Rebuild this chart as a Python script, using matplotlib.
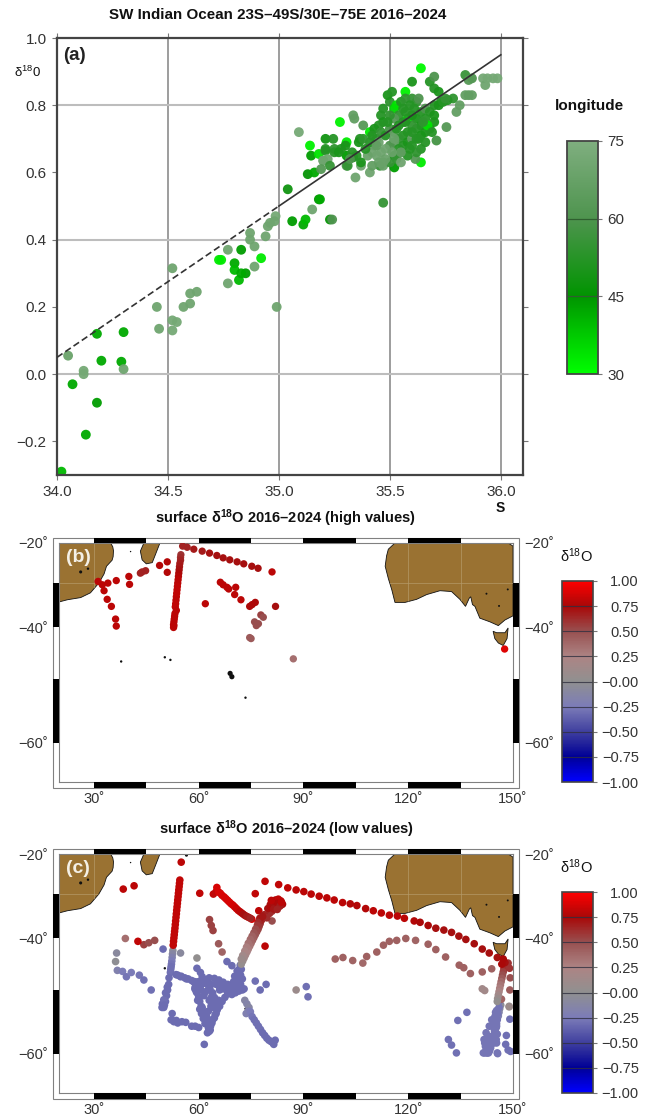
import matplotlib
matplotlib.use("Agg")
import matplotlib.pyplot as plt
import numpy as np
from matplotlib.colors import LinearSegmentedColormap, Normalize
from matplotlib.cm import ScalarMappable
from matplotlib.patches import Polygon, Rectangle

plt.rcParams['font.family'] = ['Liberation Sans', 'DejaVu Sans']
plt.rcParams['mathtext.fontset'] = 'custom'
plt.rcParams['mathtext.rm'] = 'Liberation Sans'
plt.rcParams['mathtext.it'] = 'Liberation Sans'
plt.rcParams['mathtext.bf'] = 'Liberation Sans:bold'

W, H = 649, 1115

# ---------- panel (a): (salinity, d18O, longitude) ----------
sparse_a_S = [34.02,34.05,34.12,34.12,34.07,34.18,34.13,34.18,34.2,34.3,34.29,34.3,34.45,34.46,34.52,34.54,34.52,34.52,34.57,34.6,34.6,34.63,
              34.74,34.77,34.82,34.8,34.8,34.85,34.83,34.73,34.92,34.89,34.99,34.83,34.77,34.94,34.95,34.87,34.87,34.89,34.96,34.985,34.98,
              35.06,35.11,35.12,35.15,35.18,35.04,35.13,35.16,35.09,35.14,35.145,35.18,35.2,35.21,35.21,35.23,35.185,35.24,35.47,
              35.64,35.6,35.68,35.7,35.7,35.72,35.57,35.84,35.87,35.855,35.92,35.93,35.94,35.965,35.985,35.84,35.855,35.87,35.785,35.76,35.73,35.7,
              35.815,35.8,35.755,35.71,35.275,35.335,35.34,35.38,35.365,35.41,35.245,35.305,35.25,35.2,35.305,35.335,35.305,35.37,35.41,35.345,35.64,35.615,35.52,35.455]
sparse_a_d = [-0.29,0.055,0.01,0.0,-0.03,-0.085,-0.18,0.12,0.04,0.125,0.037,0.015,0.2,0.135,0.16,0.155,0.13,0.315,0.2,0.21,0.24,0.245,
              0.34,0.27,0.28,0.33,0.31,0.3,0.3,0.34,0.345,0.32,0.2,0.37,0.37,0.41,0.44,0.42,0.4,0.38,0.45,0.47,0.455,
              0.455,0.445,0.46,0.49,0.52,0.55,0.595,0.6,0.72,0.68,0.65,0.655,0.635,0.7,0.665,0.46,0.52,0.46,0.51,
              0.91,0.87,0.87,0.885,0.85,0.84,0.84,0.89,0.88,0.875,0.88,0.86,0.88,0.88,0.88,0.83,0.83,0.83,0.82,0.815,0.81,0.8,
              0.8,0.78,0.735,0.695,0.75,0.77,0.76,0.74,0.7,0.72,0.7,0.69,0.67,0.635,0.65,0.645,0.62,0.62,0.6,0.585,0.63,0.64,0.615,0.62]
sparse_a_lon = [40,68,72,72,42,44,42,42,42,42,42,70,70,70,72,72,72,70,70,70,70,70,
                33,70,40,42,40,44,42,33,33,70,70,44,70,70,70,70,70,70,70,72,70,
                44,42,40,70,46,48,46,42,72,32,44,34,72,48,52,46,42,60,55,
                31,50,52,60,52,50,32,56,60,62,72,70,72,72,72,66,66,66,54,52,52,52,
                66,66,62,58,32,66,66,62,52,33,52,33,54,70,44,52,58,70,70,70,33,62,44,56]
cloud_S = [35.47,35.5,35.49,35.51,35.46,35.52,35.53,35.55,35.57,35.6,35.62,35.63,35.59,35.56,35.54,35.52,35.5,35.47,35.45,35.43,35.42,35.44,35.46,35.48,
           35.5,35.52,35.54,35.56,35.58,35.6,35.62,35.64,35.66,35.68,35.66,35.64,35.62,35.6,35.58,35.56,35.54,35.52,35.5,35.48,35.46,35.44,35.42,35.4,35.43,
           35.45,35.47,35.5,35.52,35.54,35.56,35.58,35.6,35.6,35.62,35.64,35.66,35.68,35.7,35.7,35.72,35.74,35.75,35.66,35.64,35.62,35.58,35.55,35.53,35.48,
           35.42,35.39,35.37,35.35,35.33,35.31,35.36,35.28,35.25,35.22,35.23,35.19,35.27,35.3,35.21,35.32,
           35.67,35.52,35.55,35.45,35.49,35.51,35.57,35.6,35.63,35.65,35.69,35.55,35.59,35.47,35.41,35.44,35.38,35.53,35.57,35.61]
cloud_d = [0.79,0.81,0.83,0.84,0.77,0.79,0.8,0.81,0.82,0.82,0.81,0.82,0.8,0.79,0.77,0.76,0.77,0.75,0.74,0.73,0.71,0.7,0.72,0.71,
           0.73,0.72,0.74,0.75,0.76,0.77,0.76,0.78,0.79,0.78,0.76,0.74,0.73,0.74,0.72,0.71,0.7,0.69,0.68,0.67,0.66,0.65,0.66,0.65,0.68,
           0.63,0.62,0.63,0.65,0.67,0.68,0.69,0.7,0.68,0.7,0.71,0.72,0.73,0.75,0.77,0.8,0.81,0.82,0.69,0.67,0.66,0.65,0.66,0.64,0.64,
           0.62,0.67,0.63,0.65,0.66,0.62,0.69,0.67,0.66,0.64,0.62,0.61,0.66,0.68,0.67,0.64,
           0.74,0.7,0.66,0.69,0.75,0.66,0.75,0.72,0.7,0.75,0.72,0.63,0.67,0.63,0.69,0.68,0.7,0.73,0.78,0.79]
cloud_lon = [52,54,50,52,52,36,34,52,54,55,55,60,52,52,54,62,54,50,52,50,52,52,55,52,
             58,66,52,52,34,50,50,52,60,52,52,50,52,54,52,52,54,66,60,70,70,70,70,68,68,
             68,68,55,52,52,52,50,66,52,52,50,50,52,50,50,50,52,55,52,52,54,52,52,55,68,
             66,52,50,52,52,55,50,52,52,70,55,62,50,50,52,60,
             34,68,66,70,52,68,52,52,52,54,52,70,52,68,52,66,54,52,52,52]
fit_S = [34.0, 35.0, 36.0]
fit_d = [0.05, 0.5, 0.95]

# ---------- panel (b) ----------
b_lon = [31.2,32.4,32.9,34,36.4,40,40.2,33.8,35,36.2,36.4,43.8,44.8,43.3,48.8,51,51,
         54.9,54.8,54.8,54.6,54.5,54.4,54.3,54.2,54.1,54,53.9,53.8,53.7,53.6,53.5,53.4,53.3,53.6,53.2,53.1,53,52.9,52.8,52.8,52.9,
         55.4,56.7,58.6,61,63.1,65.2,67,68.9,71,72.9,75.2,77,81,
         61.9,66.2,67,68.1,68.6,70.6,70.3,72.1,74.6,76.2,75.3,82,77.8,78.5,77.1,76.5,76,75,74.6,87.1,147.6]
b_lat = [-29.6,-30.4,-31.8,-30,-29.4,-28.4,-30.3,-33.8,-35.4,-38.2,-39.7,-27.3,-27,-27.6,-25.7,-24.8,-27.4,
         -23,-23.7,-24.4,-25.2,-26,-26.8,-27.6,-28.4,-29.2,-30,-30.8,-31.6,-32.4,-33.2,-34,-34.8,-35.5,-36.3,-37,-37.6,-38.2,-38.8,-39.4,-40,-39.6,
         -20.8,-21.1,-21.6,-22.1,-22.6,-23.2,-23.8,-24.3,-24.8,-25.3,-25.9,-26.4,-27.3,
         -34.8,-29.8,-30.4,-31,-31.4,-31,-32.7,-33.9,-35.4,-34.5,-35,-35.4,-37.3,-37.8,-39.2,-39.6,-38.8,-42.3,-42.1,-46.3,-44.4]
b_val = [0.8,0.8,0.8,0.8,0.8,0.8,0.8,0.8,0.8,0.8,0.8,0.66,0.66,0.66,0.78,0.78,0.78,
         0.6,0.62,0.65,0.68,0.7,0.72,0.75,0.78,0.8,0.8,0.82,0.82,0.82,0.82,0.8,0.82,0.82,0.8,0.8,0.8,0.8,0.8,0.8,0.8,0.8,
         0.65,0.65,0.68,0.68,0.72,0.72,0.72,0.72,0.72,0.72,0.72,0.72,0.8,
         0.8,0.8,0.8,0.8,0.8,0.8,0.8,0.8,0.76,0.76,0.76,0.72,0.55,0.5,0.5,0.5,0.5,0.45,0.45,0.35,0.9]

# ---------- panel (c) ----------
c_red_lon = [55,38.4,41.5,54.6,54.5,54.4,54.3,54.2,54.1,54,53.9,53.8,53.7,53.6,53.5,53.4,53.3,53.2,53.1,53,52.9,52.8,52.7,
             65.2,65,66.2,67.3,68.3,69.3,70.3,71.3,72.3,73.3,74.3,75.2,60.3,64.2,76.2,77.2,79,
             79,82.9,85.5,87.9,90.1,92.2,94.5,96.7,98.8,101.2,103.4,105.3,107.8,110,112.3,114.6,116.9,118.9,121.7,123.4,125.7,127.9,130.2,132.4,134.5,136.5,138.9,141.2,143.2,145.5,147.7,147.2,146.8,
             42.6,80.5,81.3,82,82.8,83.5,84,83,82,81,80.3,79.8,80.6,81.6,82.5,83.3,
             81.5,82.5,80.8,83.7,78.8,79.5,78.3,65.7,66.7,67.8,68.8,69.8,70.8,71.8,72.8,73.8,74.8]
c_red_lat = [-22.1,-28.8,-28,-26.6,-27.4,-28.2,-29,-29.8,-30.6,-31.4,-32.2,-33,-33.8,-34.6,-35.4,-36.2,-37,-37.8,-38.5,-39.2,-39.9,-40.6,-41.4,
             -28.4,-29.4,-29.8,-30.7,-31.5,-32.3,-33,-33.8,-34.4,-35,-35.4,-35.8,-29.8,-30,-29.9,-33.9,-41.6,
             -26.9,-27.7,-28.5,-29,-29.4,-30,-30.5,-30.9,-31.4,-32,-32.3,-32.7,-33.4,-33.9,-34.4,-34.9,-35.1,-35.6,-36.2,-36.5,-37.2,-37.8,-38.2,-38.7,-39.5,-40.2,-41.1,-42.2,-43,-43.9,-44.9,-44.2,-45.2,
             -40.6,-32.5,-31.9,-31.4,-31.2,-31.6,-32.4,-32.9,-33.3,-34,-34.5,-33.4,-33,-32.6,-32.2,-32.8,
             -33.5,-33.6,-31.5,-31.9,-34.8,-35.5,-35.2,-29.5,-30.3,-31.1,-31.9,-32.6,-33.4,-34.1,-34.7,-35.2,-35.6]
c_red_val = [0.8]*3 + [0.82]*20 + [0.88]*12 + [0.82,0.82,0.82,0.8,0.8] + \
            [0.82,0.82,0.82,0.8,0.8,0.8,0.8,0.8,0.8,0.8,0.78,0.78,0.78,0.8,0.8,0.8,0.8,0.8,0.78,0.75,0.75,0.72,0.72,0.72,0.72,0.72,0.72,0.72,0.72,0.72,0.72,0.75,0.75] + \
            [0.82,0.72,0.72,0.76,0.82,0.82,0.76,0.72,0.68,0.62,0.62,0.72,0.76,0.72,0.76,0.68] + \
            [0.7,0.66,0.8,0.8,0.66,0.62,0.7,0.88,0.88,0.88,0.88,0.86,0.84,0.8,0.72,0.68,0.65]

c_mid_lon = [77.6,77.3,77,76.6,76.2,75.8,75.4,75,74.6,74.2,73.8,73.4,73,72.6,72.2,78,77.5,81,
             63.1,63.6,64.1,65.7,66.7,39,44.3,45.7,47.4,
             99.1,101.3,104.1,107,108.1,111,112.9,114.6,116.7,119.3,122.1,125.7,127.9,130.7,134.6,135.9,137.8,141.2,143.9,
             149.2,149.1,146.7,148.9,141.2,147.5,147.4,147.2,147,146.8,146.6,146.4,146.2,146,145.8,145.6,145.5,149,148.6,
             77,76.8,76.3,75.8,75.3,74.8,74.2,73.7,73.2,72.6,72.2]
c_mid_lat = [-36.8,-37.4,-38,-38.6,-39.2,-39.8,-40.4,-41,-41.6,-42.2,-42.8,-43.4,-44,-44.6,-45.2,-36,-35.6,-36.2,
             -35.9,-37.2,-38.3,-41.1,-42.8,-40,-41.3,-40.9,-40.4,
             -44.2,-43.9,-44.5,-45,-43.7,-42.8,-41.4,-40.6,-40.4,-40,-40.4,-41.2,-42.3,-43.8,-45.4,-45.9,-47,-46.7,-46.1,
             -47.8,-50,-51.6,-52.9,-49.8,-45.5,-46.1,-46.7,-47.3,-47.9,-48.5,-49.1,-49.7,-50.3,-50.9,-51.5,-52,-46,-45,
             -36.5,-37.2,-38,-38.8,-39.5,-40.2,-41,-41.8,-42.6,-43.5,-44.2]
c_mid_val = [0.6,0.58,0.55,0.52,0.48,0.44,0.4,0.36,0.32,0.28,0.24,0.2,0.15,0.1,0.05,0.65,0.7,0.5,
             0.55,0.55,0.55,0.45,0.4,0.35,0.55,0.5,0.5,
             0.42,0.42,0.4,0.38,0.42,0.42,0.42,0.42,0.42,0.42,0.4,0.42,0.42,0.42,0.42,0.42,0.42,0.42,0.42,
             0.5,0.45,0.4,0.1,0.15,0.7,0.62,0.55,0.5,0.45,0.38,0.32,0.28,0.22,0.15,0.08,0.03,0.6,0.6,
             0.62,0.58,0.52,0.47,0.42,0.38,0.33,0.28,0.22,0.15,0.1]

c_blue_lon = [52.6,52.5,52.4,52.3,52.2,52.1,52,51.9,53.5,55,56.5,58,60,62,51.4,51.1,50.8,50.5,50,49.6,52.4,52.1,52.9,53.6,55.2,56.3,58,59,60,62.9,61.6,
              58.5,59,59.5,60,60.3,60.7,61.2,61.6,62,62.4,62.8,63,
              63.4,64,64.7,65.3,66,66.7,67.5,68.3,69,69.8,70.5,71,71.3,71.6,71.9,
              59.5,60.5,61,61.7,62.5,63.2,64,64.5,64.8,63.5,62.8,61.5,60.6,63,64.5,65.8,67,68.3,69.5,70.8,72,72.5,73,71.5,70.5,69.5,66,66.5,65.7,65,63,64,
              49.8,36.5,36.7,38.2,39.3,40.7,43,44.3,46.4,50,68.1,69.5,73.8,76.2,79.3,77.6,90.8,91.3,
              73.2,73.8,74.4,74.2,73.6,74.8,75.3,75.9,76.5,77.1,77.7,78.3,78.9,79.5,80.1,80.7,81.3,81.9,81.5,
              146.5,146.2,146,145.8,145.5,145.3,145.2,144.9,144.5,144.2,143.9,143.6,143.3,143,142.7,142.4,142.1,141.9,141.7,141.5,141.8,142.4,143,143.5,144,144.7,145.3,145.5,145.6,145.3,143.9,143.2,142.3,146,145,
              136.8,134.2,131.5,132.4,133.8,149.1,148.1,149.3,148.6,147.9]
c_blue_lat = [-42.5,-43.2,-43.9,-44.6,-45.2,-45.7,-46.2,-46.8,-47.2,-47.5,-48,-48.3,-48.5,-48.8,-49,-50,-51,-52,-53,-52.4,-54,-55,-55.3,-55.1,-55.3,-55.4,-56,-56,-56.2,-56.5,-58.7,
              -48.5,-49.5,-50.5,-51.2,-52,-52.8,-53.6,-54.3,-55,-55.7,-56.3,-56.8,
              -56,-55,-54.2,-53.4,-52.8,-52,-51.3,-50.7,-50,-49.5,-48.7,-47.8,-47,-46.2,-45.4,
              -46,-46.8,-47.6,-48.2,-49,-49.8,-50.5,-51.3,-52.2,-52.8,-53.6,-51,-50,-47.8,-47.9,-48.2,-48.6,-49,-49.2,-49.4,-49,-48,-49.8,-50.2,-50.5,-50.8,-50,-49.3,-51.8,-54,-55,-53,
              -42.2,-43,-46.4,-46.6,-47.6,-46.8,-47.3,-48.2,-50,-51.7,-44.7,-45.5,-42.6,-48.4,-49,-50,-49.4,-51.2,
              -51.8,-52.4,-53,-53.6,-54,-53.7,-54.5,-55,-55.5,-56,-56.5,-57,-57.4,-57.8,-58.1,-58.3,-58.5,-58.1,-58.7,
              -52.6,-53.2,-53.8,-54.4,-55,-55.6,-56.2,-56.8,-57.4,-58,-58.6,-59.2,-59.6,-59.9,-59.9,-59.5,-59,-58.5,-58,-59.9,-59.9,-59.9,-59,-58.2,-57.5,-56.7,-56,-59.9,-60,-58.5,-55,-56,-57,-53,-53.8,
              -53.8,-55.1,-58,-58.8,-59.9,-54.9,-57.4,-59.7,-59.5,-58.7]
c_blue_val = ([-0.05,-0.12,-0.18,-0.25,-0.28,-0.3,-0.3,-0.3] + [-0.32]*23 + [-0.32]*12 + [-0.32]*15 + [-0.32]*32 +
              [-0.32,-0.08,-0.18,-0.25,-0.28,-0.25,-0.28,-0.3,-0.3,-0.3,-0.32,-0.32,-0.3,-0.3,-0.32,-0.32,-0.3,-0.3] +
              [-0.12,-0.15,-0.12,-0.2,-0.2,-0.25,-0.28,-0.3,-0.3,-0.3,-0.3,-0.32,-0.32,-0.32,-0.32,-0.32,-0.32,-0.32,-0.32] +
              [-0.05,-0.1,-0.15,-0.2]+[-0.28]*31 +
              [-0.3,-0.3,-0.3,-0.3,-0.3,-0.3,-0.3,-0.3,-0.3,-0.3])
c_dense_lon = [54,54.8,56,57,58.8,59.5,61,62.5,63.5,65,66,66,65.5,64.5,63.8,62.2,61.8,63.3,62.5,61.3,60.8,60.3,61,59.7,59.3,58.9,60.5,62,63.7,64.2,63,67,68,69,70,71.5,70,71,70.3,72,72.2,72.5,51.5,51,50.5,50.2,49.5,53,54,
               145,144,143,142.8,143.6,144.5,145.2,145.5,144.6,144.8,145.3,146,145.6]
c_dense_lat = [-47.3,-47.6,-47.8,-48,-48.5,-48.6,-48.6,-49,-49,-49,-49.5,-52,-53,-54.7,-55.5,-54.3,-55.6,-56.6,-57,-54.8,-54,-53.3,-53,-51.8,-50.3,-49.8,-49.3,-50.3,-51.2,-52.5,-51.8,-49.8,-50,-49.5,-48.5,-49,-50,-46.5,-47.5,-47.3,-46.2,-50,-47.8,-49.5,-50.5,-52.6,-53,-55.2,-55.5,
               -57,-56,-58.3,-57.5,-57.8,-58.5,-58,-57.2,-55.5,-54.5,-53.5,-52,-54]
c_dense_val = [-0.32]*49 + [-0.28]*13
c_grey_lon = [36.2,54.8,59.5,87.9,141.9,148.9]
c_grey_lat = [-44.7,-43,-44,-50,-50.1,-52.8]
c_grey_val = [-0.02,-0.08,0.02,0.1,0.15,0.05]

# ---------- land outlines ----------
africa_lon = [20,34.8,35.4,35.6,35.5,35.2,33.6,32.9,31.4,29,26.2,22.4,20]
africa_lat = [-20,-20,-21,-22,-23.5,-24.4,-25.9,-27.8,-30,-32.3,-33.4,-33.9,-34.4]
madagascar_lon = [44.3,43.3,43.8,45,46.7,47.6,48.9]
madagascar_lat = [-20,-22.1,-24.3,-25.3,-25,-23,-20]
australia_lon = [116.2,114.3,113.8,113.4,114.3,115.3,116.2,119.1,122.4,125.3,129.1,132.4,134.8,136.4,137.5,137.9,138.4,139.1,140.5,143.4,145.8,147.7,150,150,148.6]
australia_lat = [-20,-21.6,-23.3,-25.9,-28.9,-31.6,-34.5,-34.5,-33.8,-32.7,-31.8,-32,-33.8,-35.4,-33.5,-33.2,-35,-35.4,-38,-38.8,-39.6,-38.4,-37.5,-20.8,-20]
tasmania_lon = [144.3,145.3,147.7,148.6,148.3,147.2,145.8,144.8]
tasmania_lat = [-40.8,-41.1,-41.1,-40.1,-42.3,-43.7,-43.2,-42.3]
island_lon = [37.8,50.3,51.9,69,69.5,73.4,40.5,26.2,28.3,142.4,146,148.5,56.5]
island_lat = [-46.8,-46,-46.5,-49,-49.6,-53.2,-22.2,-27.3,-26.5,-32.5,-35.3,-31.5,-20.3]
island_size = [3,3,3,14,14,3,1,5,3,2,2,2,5]

lon_ticks = [30, 60, 90, 120, 150]
lat_ticks = [-20, -40, -60]
lon_bands = [(30, 45), (60, 75), (90, 105), (120, 135)]
lat_bands = [(-40, -30), (-60, -50)]
s_ticks = [34.0, 34.5, 35.0, 35.5, 36.0]
d_ticks = [-0.2, 0.0, 0.2, 0.4, 0.6, 0.8, 1.0]
d_grid = [0.0, 0.4, 0.8]
cb_lon_ticks = [30, 45, 60, 75]
cb_d_ticks = [-1, -0.75, -0.5, -0.25, 0, 0.25, 0.5, 0.75, 1]
cb_d_labels = ['\u22121.00', '\u22120.75', '\u22120.50', '\u22120.25', '\u22120.00', '0.25', '0.50', '0.75', '1.00']

green_cmap = LinearSegmentedColormap.from_list('g', [(0, '#00ff00'), (1/3, '#009400'), (2/3, '#4e944e'), (1, '#7fae7f')])
polar_cmap = LinearSegmentedColormap.from_list('p', [(0, '#0000ff'), (0.125, '#000096'), (0.25, '#40409f'), (0.375, '#7c7cb8'),
                                                     (0.5, '#909090'), (0.625, '#ad8484'), (0.75, '#985050'), (0.875, '#a80808'), (1, '#ff0000')])
TXT = '#333333'
FRAME = '#808080'

fig = plt.figure(figsize=(W / 100, H / 100), dpi=100)


def axpx(x0, y0, x1, y1, **kw):
    return fig.add_axes([x0 / W, 1 - y1 / H, (x1 - x0) / W, (y1 - y0) / H], **kw)


def txt(x, y, s, **kw):
    kw.setdefault('ha', 'center')
    kw.setdefault('va', 'center')
    kw.setdefault('color', '#111111')
    return fig.text(x / W, 1 - y / H, s, **kw)


# ---------- (a) ----------
ax = axpx(57, 38, 523, 475)
ax.set_xlim(34.0, 36.1)
ax.set_ylim(-0.3, 1.0)
for v in s_ticks[1:]:
    ax.axvline(v, color='#8c8c8c', lw=1.2, zorder=1)
for v in d_grid:
    ax.axhline(v, color='#bdbdbd', lw=1.5, zorder=1)
ax.scatter(sparse_a_S + cloud_S, sparse_a_d + cloud_d, c=sparse_a_lon + cloud_lon, cmap=green_cmap,
           norm=Normalize(30, 75), s=50, linewidths=0, zorder=2, alpha=0.95, clip_on=True)
ax.plot(fit_S[:2], fit_d[:2], color='#333333', lw=1.2, ls=(0, (4, 2)), zorder=3)
ax.plot(fit_S[1:], fit_d[1:], color='#333333', lw=1.2, zorder=3)
ax.set_xticks(s_ticks)
ax.set_xticklabels(['34.0', '34.5', '35.0', '35.5', '36.0'])
ax.set_yticks(d_ticks)
ax.set_yticklabels(['\u22120.2', '0.0', '0.2', '0.4', '0.6', '0.8', '1.0'])
ax.tick_params(axis='both', which='both', top=True, right=True, length=3.5, width=0.8, color='#777777',
               labelsize=11, labelcolor=TXT, pad=4)
ax.tick_params(axis='x', pad=3.5)
for name, sp in ax.spines.items():
    sp.set_color('#444444')
    sp.set_linewidth(1.6)
ax.text(0.0135, 0.96, '(a)', transform=ax.transAxes, fontsize=13.5, fontweight='bold', ha='left', va='center', color='#222222')

txt(278, 15, 'SW Indian Ocean 23S\u201349S/30E\u201375E 2016\u20132024', fontsize=10.9, fontweight='bold')
txt(28, 72, '$\\mathregular{\\delta^{18}}$0', fontsize=9.5)
txt(500, 508, 'S', fontsize=10, fontweight='bold')
txt(589, 106, 'longitude', fontsize=11, fontweight='bold')

# longitude colorbar
cax = axpx(567, 141, 598, 374)
cb = fig.colorbar(ScalarMappable(Normalize(30, 75), green_cmap), cax=cax)
cb.set_ticks(cb_lon_ticks)
cb.set_ticklabels([str(v) for v in cb_lon_ticks])
cb.ax.tick_params(length=3, width=0.8, color='#777777', labelsize=11, labelcolor=TXT, pad=4)
cb.outline.set_edgecolor('#444444')
cb.outline.set_linewidth(1.3)
for v in cb_lon_ticks[1:-1]:
    cax.axhline(v, color='#2f5f2f', lw=0.9)


# ---------- maps ----------
def merc(lat):
    lat = np.asarray(lat, dtype=float)
    return -np.log(np.tan(np.pi / 4 + np.radians(-lat) / 2))


def imerc(y):
    y = np.asarray(y, dtype=float)
    return -np.degrees(2 * np.arctan(np.exp(-y)) - np.pi / 2)


def map_panel(top, label, title, title_y, lons, lats, vals, msize, cb_top):
    bot = top + 239
    ax = axpx(59, top, 513, bot)
    ax.set_xlim(20, 150)
    ax.set_yscale('function', functions=(merc, imerc))
    ax.set_ylim(-65, -20)
    for plon, plat in [(africa_lon, africa_lat), (madagascar_lon, madagascar_lat),
                       (australia_lon, australia_lat), (tasmania_lon, tasmania_lat)]:
        poly = Polygon(list(zip(plon, plat)), closed=True, facecolor='#9a7232', edgecolor='#111111', lw=0.6, zorder=1)
        ax.add_patch(poly)
        for gx in [30, 120, 135]:
            ln, = ax.plot([gx, gx], [-65, -20], color='#b59a68', lw=0.5, zorder=1.2)
            ln.set_clip_path(poly)
        ln, = ax.plot([20, 150], [-30, -30], color='#b59a68', lw=0.5, zorder=1.2)
        ln.set_clip_path(poly)
    ax.scatter(island_lon, island_lat, s=island_size, c='#111111', linewidths=0, zorder=1.5)
    ax.scatter(lons, lats, c=vals, cmap=polar_cmap, norm=Normalize(-1, 1), s=msize, linewidths=0, zorder=3)
    ax.set_xticks(lon_ticks)
    ax.set_xticklabels([f'{v}\u02da' for v in lon_ticks])
    ax.set_yticks(lat_ticks)
    ax.set_yticklabels([f'\u2212{abs(v)}\u02da' for v in lat_ticks])
    ax.minorticks_off()
    ax.tick_params(axis='both', which='both', length=0, labelsize=10.5, labelcolor=TXT)
    ax.tick_params(axis='x', pad=7)
    ax.tick_params(axis='y', left=True, right=False, labelleft=True, labelright=True, pad=8)
    for sp in ax.spines.values():
        sp.set_color(FRAME)
        sp.set_linewidth(0.8)
    # fancy frame: outer box and black bands (6 px wide)
    fx = 6 / 454
    fy = 5.5 / 239
    xt = ax.get_xaxis_transform()
    yt = ax.get_yaxis_transform()
    ax.add_patch(Rectangle((-fx, -fy), 1 + 2 * fx, 1 + 2 * fy, transform=ax.transAxes, fill=False,
                           ec=FRAME, lw=0.8, clip_on=False, zorder=5))
    for a, b in lon_bands:
        for y0 in (-fy, 1):
            ax.add_patch(Rectangle((a, y0), b - a, fy, transform=xt, fc='black', ec='none', clip_on=False, zorder=6))
    for a, b in lat_bands:
        for x0 in (-fx, 1):
            ax.add_patch(Rectangle((x0, a), fx, b - a, transform=yt, fc='black', ec='none', clip_on=False, zorder=6))
    ax.text(22, -23.6, label, fontsize=14, fontweight='bold', color='#f4f0e6', ha='left', va='center', zorder=7)
    txt(286, title_y, title, fontsize=10.5, fontweight='bold')
    # colorbar
    cax = axpx(562, cb_top, 593, bot)
    cb = fig.colorbar(ScalarMappable(Normalize(-1, 1), polar_cmap), cax=cax)
    cb.set_ticks(cb_d_ticks)
    cb.set_ticklabels(cb_d_labels)
    cb.ax.tick_params(length=3, width=0.8, color='#777777', labelsize=10.5, labelcolor=TXT, pad=30)
    for lab in cb.ax.get_yticklabels():
        lab.set_ha('right')
    cb.outline.set_edgecolor('#444444')
    cb.outline.set_linewidth(1.2)
    for v in cb_d_ticks[1:-1]:
        cax.axhline(v, color='#303040', lw=0.8, alpha=0.8)
    txt(576, cb_top - 25, '$\\mathregular{\\delta^{18}}$O', fontsize=10.5)


map_panel(543, '(b)', 'surface $\\mathregular{\\delta^{18}}$O 2016\u20132024 (high values)', 518,
          b_lon, b_lat, b_val, 28, 581)
map_panel(854, '(c)', 'surface $\\mathregular{\\delta^{18}}$O 2016\u20132024 (low values)', 829,
          c_blue_lon + c_dense_lon + c_grey_lon + c_mid_lon + c_red_lon,
          c_blue_lat + c_dense_lat + c_grey_lat + c_mid_lat + c_red_lat,
          c_blue_val + c_dense_val + c_grey_val + c_mid_val + c_red_val, 30, 892)

fig.savefig('out.png', dpi=100)
